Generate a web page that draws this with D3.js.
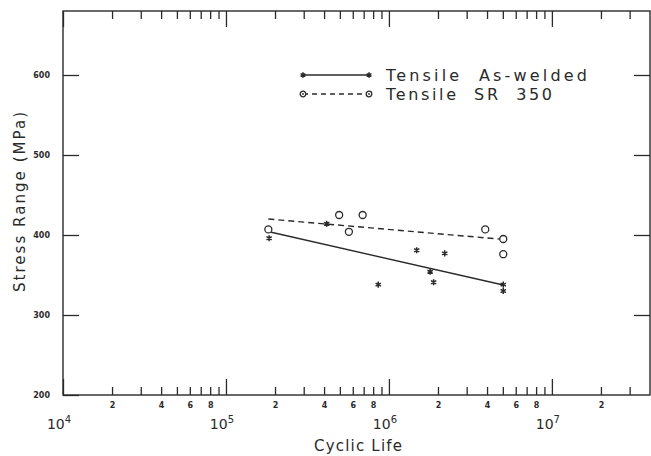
<!DOCTYPE html>
<html>
<head>
<meta charset="utf-8">
<script src="https://cdn.jsdelivr.net/npm/d3@7"></script>
<style>
  body { margin: 0; background: #fff; }
  text { font-family: "DejaVu Sans", sans-serif; fill: #2a2a2a; }
</style>
</head>
<body>
<div id="chart"></div>
<script>
// values
var weldedLife   = [1.84e5, 4.15e5, 8.6e5, 1.48e6, 1.79e6, 1.88e6, 2.2e6, 5.03e6, 5.03e6];
var weldedStress = [396, 414, 338, 381, 354, 341, 377, 338, 330];
var srLife   = [1.82e5, 4.95e5, 5.68e5, 6.9e5, 3.9e6, 5.03e6, 5.03e6];
var srStress = [407, 425, 404, 425, 407, 395, 376];
// regression lines (end points)
var weldedFitLife   = [1.84e5, 5.03e6];
var weldedFitStress = [404, 337.5];
var srFitLife   = [1.82e5, 5.03e6];
var srFitStress = [420, 394.5];
// axes
var yTicks = [300, 400, 500, 600];
var decades = [1e4, 1e5, 1e6, 1e7];
var decadeExp = ["4", "5", "6", "7"];
var minorLabelled = [2, 4, 6, 8];
var legendNames = ["Tensile  As-welded", "Tensile  SR  350"];

var w = 651, h = 456,
    margin = {top: 11, right: 1, bottom: 61, left: 63},
    width = w - margin.left - margin.right,
    height = h - margin.top - margin.bottom,
    ink = "#2a2a2a";

var svg = d3.select("#chart").append("svg")
    .attr("width", w)
    .attr("height", h);

var g = svg.append("g")
    .attr("transform", "translate(" + margin.left + "," + margin.top + ")");

var x = d3.scaleLog().domain([1e4, 4e7]).range([0, width]);
var y = d3.scaleLinear().domain([200, 680]).range([height, 0]);

// minor tick positions 2..9 in each decade
var minor = [];
decades.forEach(function (d) {
    for (var m = 2; m <= 9; m++) {
        if (d * m < 4e7) minor.push(d * m);
    }
});

function minorFmt(v) {
    var m = Math.round(v / Math.pow(10, Math.floor(Math.log10(v) + 1e-9)));
    return minorLabelled.indexOf(m) >= 0 ? String(m) : "";
}

function styleAxis(sel) {
    sel.select(".domain").remove();
    sel.selectAll("line").attr("stroke", ink).attr("stroke-width", 1.3);
    sel.selectAll("text").style("font-size", "8px").style("font-weight", "bold");
}

// bottom
g.append("g").attr("transform", "translate(0," + height + ")")
    .call(d3.axisBottom(x).tickValues(minor).tickFormat(minorFmt).tickSize(-8).tickPadding(7))
    .call(styleAxis);
g.append("g").attr("transform", "translate(0," + height + ")")
    .call(d3.axisBottom(x).tickValues(decades).tickFormat("").tickSize(-16))
    .call(styleAxis);
// top
g.append("g")
    .call(d3.axisTop(x).tickValues(minor).tickFormat("").tickSize(-8))
    .call(styleAxis);
g.append("g")
    .call(d3.axisTop(x).tickValues(decades).tickFormat("").tickSize(-16))
    .call(styleAxis);
// left / right
g.append("g")
    .call(d3.axisLeft(y).tickValues([200].concat(yTicks)).tickFormat(d3.format("d")).tickSize(-16).tickPadding(13))
    .call(styleAxis);
g.append("g").attr("transform", "translate(" + width + ",0)")
    .call(d3.axisRight(y).tickValues(yTicks).tickFormat("").tickSize(-16))
    .call(styleAxis);

// frame
g.append("rect")
    .attr("width", width).attr("height", height)
    .attr("fill", "none").attr("stroke", ink).attr("stroke-width", 1.4);

// decade labels 10^n
decades.forEach(function (d, i) {
    var t = g.append("text")
        .attr("x", x(d) - 4)
        .attr("y", height + 34)
        .attr("text-anchor", "middle")
        .style("font-size", "14px");
    t.append("tspan").text("10");
    t.append("tspan").attr("dy", -6).style("font-size", "10px").text(decadeExp[i]);
});

// axis titles
g.append("text")
    .attr("x", 295).attr("y", height + 56)
    .attr("text-anchor", "middle")
    .attr("textLength", 88).attr("lengthAdjust", "spacing")
    .style("font-size", "15px")
    .text("Cyclic Life");
g.append("text")
    .attr("transform", "translate(" + (-38) + "," + 191 + ") rotate(-90)")
    .attr("text-anchor", "middle")
    .attr("textLength", 180).attr("lengthAdjust", "spacing")
    .style("font-size", "15px")
    .text("Stress Range (MPa)");

// fitted lines
var line = d3.line().x(function (d) { return x(d[0]); }).y(function (d) { return y(d[1]); });
g.append("path")
    .datum(d3.zip(weldedFitLife, weldedFitStress))
    .attr("d", line).attr("fill", "none").attr("stroke", ink).attr("stroke-width", 1.4);
g.append("path")
    .datum(d3.zip(srFitLife, srFitStress))
    .attr("d", line).attr("fill", "none").attr("stroke", ink).attr("stroke-width", 1.4)
    .attr("stroke-dasharray", "6,4");

// markers
var star = d3.symbol().type(d3.symbolAsterisk).size(26);
g.selectAll(".star")
    .data(d3.zip(weldedLife, weldedStress))
    .enter().append("path")
    .attr("class", "star")
    .attr("d", star)
    .attr("transform", function (d) { return "translate(" + x(d[0]) + "," + y(d[1]) + ")"; })
    .attr("fill", "none").attr("stroke", ink).attr("stroke-width", 1.5);

g.selectAll(".ring")
    .data(d3.zip(srLife, srStress))
    .enter().append("circle")
    .attr("class", "ring")
    .attr("cx", function (d) { return x(d[0]); })
    .attr("cy", function (d) { return y(d[1]); })
    .attr("r", 3.5)
    .attr("fill", "#fff").attr("stroke", ink).attr("stroke-width", 1.3);

// legend
var legendLen = [201, 166];
var lg = g.append("g").attr("transform", "translate(240,64)");
legendNames.forEach(function (name, i) {
    var row = lg.append("g").attr("transform", "translate(0," + (i * 19) + ")");
    row.append("line")
        .attr("x1", 0).attr("x2", 66)
        .attr("stroke", ink).attr("stroke-width", 1.4)
        .attr("stroke-dasharray", i ? "5,4" : null);
    [0, 66].forEach(function (px) {
        if (i === 0) {
            row.append("path").attr("d", d3.symbol().type(d3.symbolAsterisk).size(22))
                .attr("transform", "translate(" + px + ",0)")
                .attr("fill", "none").attr("stroke", ink).attr("stroke-width", 1.5);
        } else {
            row.append("circle").attr("cx", px).attr("r", 2.8)
                .attr("fill", "#fff").attr("stroke", ink).attr("stroke-width", 1.3);
            row.append("circle").attr("cx", px).attr("r", 0.9).attr("fill", ink);
        }
    });
    row.append("text")
        .attr("x", 83).attr("y", 6)
        .attr("textLength", legendLen[i]).attr("lengthAdjust", "spacing")
        .style("font-size", "16px")
        .style("white-space", "pre")
        .text(name);
});
</script>
</body>
</html>
